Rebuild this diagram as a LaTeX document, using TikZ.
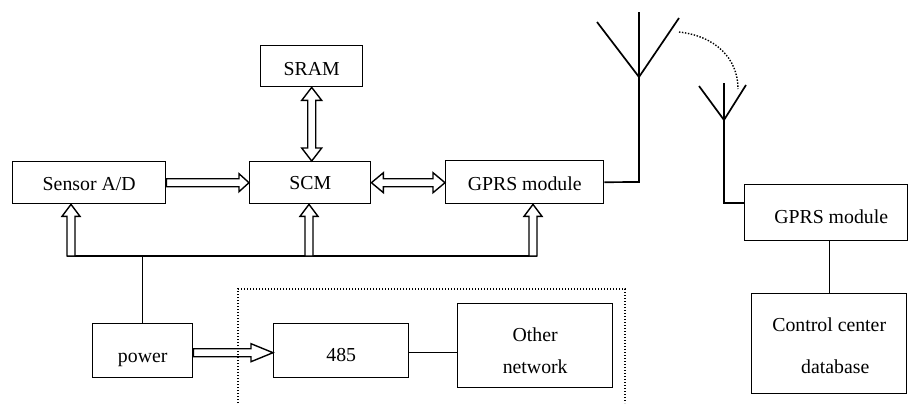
\documentclass[tikz,border=0pt]{standalone}
\usepackage{fontspec}
\setmainfont{Liberation Serif}
\usetikzlibrary{calc}
\tikzset{
  box/.style={draw, line width=1.4pt, rectangle, anchor=north west, inner sep=0pt, font=\fontsize{19.8}{24}\selectfont},
  hollow/.style={draw, line width=1.4pt, fill=white, line join=miter},
  wire/.style={line width=1.4pt},
  ant/.style={line width=1.7pt},
  dots/.style={line width=1.4pt, dash pattern=on 1.4pt off 1.6pt},
}
% right-pointing hollow arrow: #1 start, #2 end, #3 head length
\newcommand\arrR[3]{\draw[hollow] let \p1=#1, \p2=#2 in
  (\x1,\y1+4pt) -- (\x2-#3,\y1+4pt) -- (\x2-#3,\y1+9pt) -- (\x2,\y1) -- (\x2-#3,\y1-9pt) -- (\x2-#3,\y1-4pt) -- (\x1,\y1-4pt) -- cycle;}
% up-pointing hollow arrow: #1 start (below), #2 end (above)
\newcommand\arrU[2]{\draw[hollow] let \p1=#1, \p2=#2 in
  (\x1-4pt,\y1) -- (\x1-4pt,\y2-12pt) -- (\x1-9pt,\y2-12pt) -- (\x1,\y2) -- (\x1+9pt,\y2-12pt) -- (\x1+4pt,\y2-12pt) -- (\x1+4pt,\y1) -- cycle;}
% double horizontal: #1 left, #2 right
\newcommand\arrLR[2]{\draw[hollow] let \p1=#1, \p2=#2 in
  (\x1,\y1) -- (\x1+12pt,\y1+10pt) -- (\x1+12pt,\y1+4pt) -- (\x2-12pt,\y1+4pt) -- (\x2-12pt,\y1+10pt) -- (\x2,\y1)
  -- (\x2-12pt,\y1-10pt) -- (\x2-12pt,\y1-4pt) -- (\x1+12pt,\y1-4pt) -- (\x1+12pt,\y1-10pt) -- cycle;}
% double vertical: #1 top, #2 bottom
\newcommand\arrUD[2]{\draw[hollow] let \p1=#1, \p2=#2 in
  (\x1,\y1) -- (\x1+10pt,\y1-13pt) -- (\x1+4pt,\y1-13pt) -- (\x1+4pt,\y2+13pt) -- (\x1+10pt,\y2+13pt) -- (\x1,\y2)
  -- (\x1-10pt,\y2+13pt) -- (\x1-4pt,\y2+13pt) -- (\x1-4pt,\y1-13pt) -- (\x1-10pt,\y1-13pt) -- cycle;}
\begin{document}
\begin{tikzpicture}[x=1pt,y=-1pt]
\useasboundingbox (0,0) rectangle (908,405);

% boxes
\node[box, minimum width=153pt, minimum height=42pt, text height=15pt, text depth=0pt] (sensor) at (12,161) {Sensor A/D};
\node[box, minimum width=121pt, minimum height=42pt, text height=14pt, text depth=0pt] (scm) at (249,161) {SCM};
\node[box, minimum width=102pt, minimum height=41pt, text height=19pt, text depth=0pt] (sram) at (260,45) {SRAM};
\node[box, minimum width=158pt, minimum height=43pt, text height=17pt, text depth=0pt] (gprs1) at (445,160) {GPRS module};
\node[box, minimum width=163pt, minimum height=56pt, text height=22pt, text depth=0pt] (gprs2) at (744,184) {\hspace*{10pt}GPRS module};
\node[box, minimum width=155pt, minimum height=100pt] (ctrl) at (751,293)
  {\raisebox{0pt}[0pt][24pt]{\fontsize{19.8}{42}\selectfont\begin{tabular}[t]{@{}c@{}}Control center\\ \hspace*{12pt}database\end{tabular}}};
\node[box, minimum width=100pt, minimum height=54pt, text height=24pt, text depth=0pt] (power) at (92,323) {power};
\node[box, minimum width=135pt, minimum height=54pt, text height=22pt, text depth=0pt] (n485) at (273,323) {485};
\node[box, minimum width=155pt, minimum height=84pt] (other) at (457,303)
  {\raisebox{0pt}[0pt][9pt]{\fontsize{19.8}{32}\selectfont\begin{tabular}[t]{@{}c@{}}Other\\ network\end{tabular}}};

% bus
\coordinate (b1) at (71,256);
\coordinate (b2) at (309,256);
\coordinate (b3) at (533,256);
\draw[wire] ($(b1)+(-4,0)$) -- ($(b3)+(4,0)$);
\draw[wire] (power.north) -- (power.north |- b1);

% hollow arrows
\arrR{(sensor.east)}{(scm.west)}{10pt}
\arrLR{(scm.east)}{(gprs1.west |- scm.east)}
\arrUD{(sram.south)}{(scm.north)}
\arrU{(b1)}{(b1 |- sensor.south)}
\arrU{(b2)}{(b2 |- scm.south)}
\arrU{(b3)}{(b3 |- gprs1.south)}
\arrR{($(power.east)+(0,2)$)}{($(n485.west)+(0,2)$)}{22pt}

% 485 - other network
\draw[wire] ($(n485.east)+(0,2)$) -- ($(n485.east -| other.west)+(0,2)$);
% gprs2 - control
\draw[wire] (gprs2.south -| ctrl.north) -- (ctrl.north);

% antenna 1
\coordinate (a1base) at (639,182);
\coordinate (a1top) at (639,12);
\coordinate (a1j) at (639,77);
\coordinate (a1l) at (597,22);
\coordinate (a1r) at (679,18);
\draw[ant] (gprs1.east) -- (a1base) -- (a1top);
\draw[ant] (a1l) -- (a1j) -- (a1r);

% antenna 2
\coordinate (a2base) at (724,203);
\coordinate (a2top) at (724,83);
\coordinate (a2j) at (724,120);
\coordinate (a2l) at (699,86);
\coordinate (a2r) at (746,85);
\draw[ant] (a2base -| gprs2.west) -- (a2base) -- (a2top);
\draw[ant] (a2l) -- (a2j) -- (a2r);

% dotted arc
\coordinate (d1) at (679,32);
\coordinate (d2) at (738,89);
\draw[dots] (d1) .. controls (715,36) and (738,58) .. (d2);

% dotted frame
\coordinate (f1) at (238,403);
\coordinate (f2) at (238,289);
\coordinate (f3) at (625,289);
\coordinate (f4) at (625,403);
\draw[dots] (f1) -- (f2) -- (f3) -- (f4);
\end{tikzpicture}
\end{document}
